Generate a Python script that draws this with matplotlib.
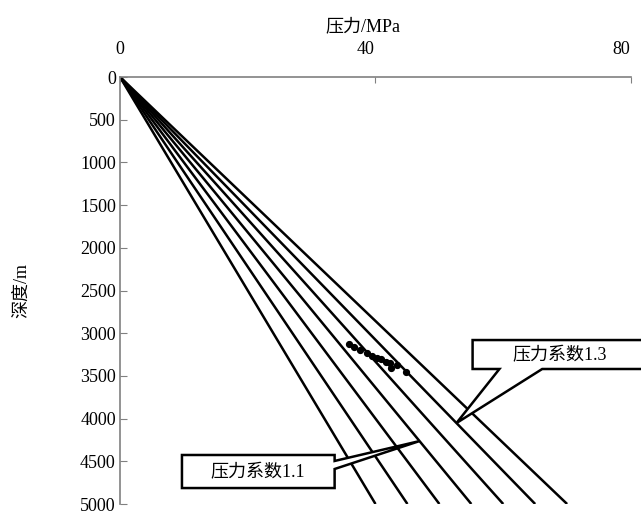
import matplotlib
matplotlib.use('Agg')
import matplotlib.pyplot as plt
import matplotlib.transforms as mtransforms
import numpy as np
from matplotlib.patches import Polygon

plt.rcParams['font.family'] = ['Liberation Serif', 'Noto Sans CJK SC']

## pressure coefficients and pressure at 5000 m (MPa)
coefs = [0.8, 0.9, 1.0, 1.1, 1.2, 1.3, 1.4]
depth_max = 5000
p_bottom = [40, 45, 50, 55, 60, 65, 70]

## measured points (pressure MPa, depth m)
meas_p = [35.9, 36.7, 37.5, 38.6, 39.4, 40.2, 40.9, 41.7, 42.2, 42.5, 43.3, 44.8]
meas_d = [3127, 3162, 3197, 3232, 3267, 3290, 3302, 3337, 3349, 3408, 3372, 3454]

x_ticks = [0, 40, 80]
y_ticks = list(range(0, 5001, 500))

fig = plt.figure(figsize=(6.41, 5.12), dpi=100)
ax = fig.add_axes([0.1872, 0.0156, 0.7972, 0.834])

for p in p_bottom:
    ax.plot([0, p], [0, depth_max], color='black', lw=1.8, solid_capstyle='butt')

ax.plot(meas_p, meas_d, 'o', color='black', ms=4.2, mec='black')

ax.set_xlim(0, 80)
ax.set_ylim(depth_max, 0)
ax.set_xticks(x_ticks)
ax.set_yticks(y_ticks)
ax.xaxis.tick_top()
ax.xaxis.set_label_position('top')
ax.tick_params(axis='x', direction='in', length=4, color='#808080', pad=14, labelsize=13)
ax.tick_params(axis='y', direction='in', length=5, color='#808080', pad=3, labelsize=13)
for s in ['right', 'bottom']:
    ax.spines[s].set_visible(False)
for s in ['top', 'left']:
    ax.spines[s].set_color('#808080')
    ax.spines[s].set_linewidth(1.2)

## excel-like shift of the top labels a bit to the left
shift = mtransforms.ScaledTranslation(-10 / 100, 0, fig.dpi_scale_trans)
for lab in ax.get_xticklabels()[1:]:
    lab.set_transform(lab.get_transform() + shift)

ax.set_xlabel('压力/MPa', fontsize=13)
ax.set_ylabel('深度/m', fontsize=13)
ax.xaxis.set_label_coords(0.476, 1.108)
ax.yaxis.set_label_coords(-0.175, 0.5)

## callout 1.3 -> line 65 MPa
tip13 = (65 * 4052 / depth_max, 4052)
poly13 = [(55.2, 3080), (84, 3080), (84, 3419), (66.1, 3419), tip13,
          (59.4, 3419), (55.2, 3419)]
ax.add_patch(Polygon(poly13, closed=True, fc='white', ec='black', lw=1.8,
                     clip_on=False, zorder=5))
ax.text(68.9, 3267, '压力系数1.3', ha='center', va='center', fontsize=13,
        zorder=6, clip_on=False)

## callout 1.1 -> line 55 MPa
tip11 = (55 * 4263 / depth_max, 4263)
poly11 = [(9.7, 4426), (33.6, 4426), (33.6, 4496), tip11, (33.6, 4590),
          (33.6, 4813), (9.7, 4813)]
ax.add_patch(Polygon(poly11, closed=True, fc='white', ec='black', lw=1.8,
                     clip_on=False, zorder=5))
ax.text(21.6, 4637, '压力系数1.1', ha='center', va='center', fontsize=13,
        zorder=6)

fig.savefig('out.png', dpi=100)
